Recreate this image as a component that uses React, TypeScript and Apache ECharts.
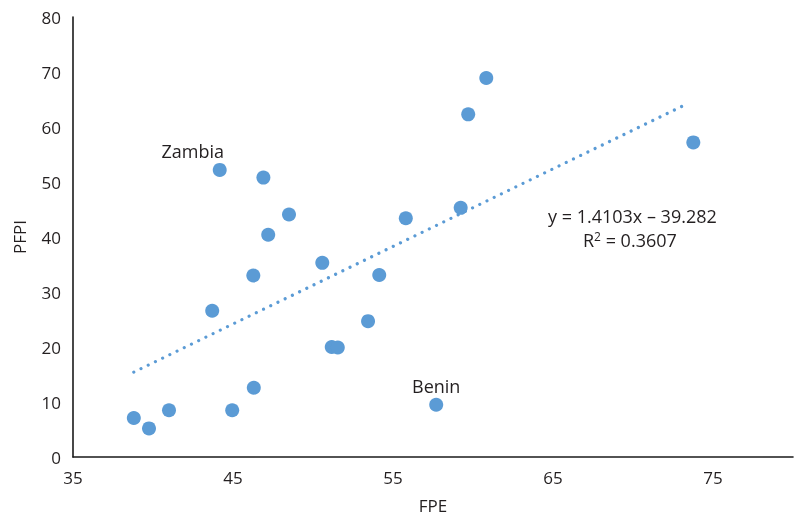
import React, { useEffect, useRef } from "react";
import * as echarts from "echarts";

const fpe = [38.8, 39.75, 41.0, 43.7, 44.95, 46.27, 46.3, 44.17, 46.9, 47.2, 48.5, 50.58, 51.17, 51.55, 53.44, 54.14, 55.8, 57.7, 59.23, 59.7, 60.83, 73.77];
const pfpi = [7.1, 5.2, 8.5, 26.6, 8.5, 33.0, 12.6, 52.2, 50.8, 40.4, 44.1, 35.3, 20.0, 19.9, 24.7, 33.1, 43.4, 9.5, 45.3, 62.3, 68.9, 57.2];
const pointNames = ["", "", "", "", "", "", "", "Zambia", "", "", "", "", "", "", "", "", "", "Benin", "", "", "", ""];
const trendSlope = 1.4103;
const trendIntercept = -39.282;
const trendRange = [38.8, 73.4];
const xTicks = [35, 45, 55, 65, 75];
const yTicks = [0, 10, 20, 30, 40, 50, 60, 70, 80];

const FONT = "'Open Sans', 'Noto Sans', sans-serif";
const TXT = "#231f20";

export default function App() {
  const ref = useRef<HTMLDivElement>(null);
  useEffect(() => {
    if (!ref.current) return;
    const chart = echarts.init(ref.current, null, { renderer: "svg" });
    const pts = fpe.map((x, i) => ({
      value: [x, pfpi[i]],
      name: pointNames[i],
      label: pointNames[i]
        ? {
            show: true,
            position: "top",
            distance: 3,
            offset: pointNames[i] === "Zambia" ? [-27, 0] : [0, 0],
            formatter: "{b}",
            color: TXT,
            fontSize: 18,
            fontFamily: FONT,
          }
        : { show: false },
    }));
    const trend = trendRange.map((x) => [x, trendSlope * x + trendIntercept]);
    chart.setOption({
      animation: false,
      grid: { left: 73, top: 17, right: 3, bottom: 58 },
      xAxis: {
        type: "value",
        min: 35,
        max: 80,
        interval: 10,
        name: "FPE",
        nameLocation: "middle",
        nameGap: 40,
        nameTextStyle: { color: TXT, fontSize: 17, fontFamily: FONT },
        axisLine: { show: true, lineStyle: { color: "#1a1a1a", width: 1.6 } },
        axisTick: { show: false },
        splitLine: { show: false },
        axisLabel: {
          color: TXT,
          fontSize: 17,
          fontFamily: FONT,
          margin: 12,
          showMaxLabel: false,
          formatter: (v: number) => (xTicks.includes(v) ? String(v) : ""),
        },
      },
      yAxis: {
        type: "value",
        min: 0,
        max: 80,
        interval: 10,
        name: "PFPI",
        nameLocation: "middle",
        nameGap: 45,
        nameTextStyle: { color: TXT, fontSize: 17, fontFamily: FONT },
        axisLine: { show: true, lineStyle: { color: "#1a1a1a", width: 1.6 } },
        axisTick: { show: false },
        splitLine: { show: false },
        axisLabel: {
          color: TXT,
          fontSize: 17,
          fontFamily: FONT,
          margin: 12,
          formatter: (v: number) => (yTicks.includes(v) ? String(v) : ""),
        },
      },
      series: [
        {
          type: "line",
          data: trend,
          symbol: "none",
          silent: true,
          lineStyle: { color: "#5B9BD5", width: 3.2, type: [0.01, 8], cap: "round" },
          z: 1,
        },
        {
          type: "scatter",
          data: pts,
          symbolSize: 14,
          itemStyle: { color: "#5B9BD5", opacity: 1 },
          z: 2,
        },
      ],
      graphic: [
        {
          type: "text",
          left: 548,
          top: 207,
          style: {
            text: "y = 1.4103x – 39.282",
            fill: TXT,
            fontSize: 18,
            fontFamily: FONT,
          },
        },
        {
          type: "text",
          left: 583,
          top: 230,
          style: {
            text: "R{s|2} = 0.3607",
            fill: TXT,
            fontSize: 18,
            fontFamily: FONT,
            rich: {
              s: { fontSize: 12, verticalAlign: "top", padding: [0, 0, 8, 0], fill: TXT, fontFamily: FONT },
            },
          },
        },
      ],
    });
    return () => chart.dispose();
  }, []);
  return <div ref={ref} style={{ position: "fixed", left: 0, top: 0, width: 796, height: 519 }} />;
}
